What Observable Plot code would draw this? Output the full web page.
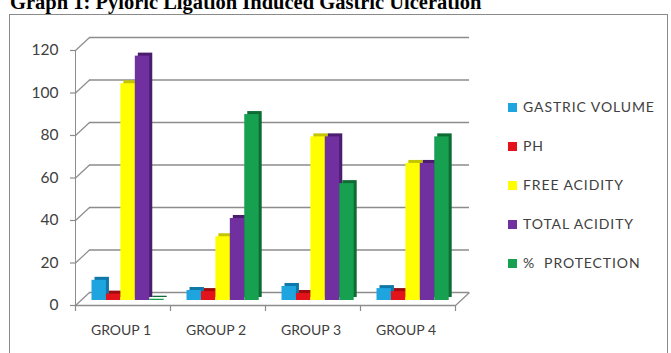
<!DOCTYPE html>
<html><head><meta charset="utf-8">
<script src="https://cdn.jsdelivr.net/npm/d3@7"></script>
<script src="https://cdn.jsdelivr.net/npm/@observablehq/plot@0.6"></script>
<style>
body{margin:0;width:671px;height:353px;overflow:hidden;background:#fff;position:relative;font-family:Lato,sans-serif}
#title{position:absolute;left:10px;top:-8px;font:bold 20.5px "Liberation Serif";line-height:20px;white-space:nowrap;color:#000}
#box{position:absolute;left:9px;top:14px;width:659px;height:400px;border:1px solid #8a8a8a;box-sizing:border-box}
#chart{position:absolute;left:0;top:0}
#legend{position:absolute;left:0;top:0}
.item{position:absolute;left:508px;white-space:pre;font:14px Lato,sans-serif;letter-spacing:0.9px;color:#404040;line-height:16px}
.sw{display:inline-block;width:9px;height:9px;margin-right:6px;vertical-align:0px}
</style></head><body>
<div id="title">Graph 1: Pyloric Ligation Induced Gastric Ulceration</div>
<div id="box"></div>
<div id="chart"></div>
<div id="legend"></div>
<script>
const groups = ["GROUP 1", "GROUP 2", "GROUP 3", "GROUP 4"];
const seriesNames = ["GASTRIC VOLUME", "PH", "FREE ACIDITY", "TOTAL ACIDITY", "%  PROTECTION"];
const gastricVolume = [9.5, 4.7, 6.6, 5.6];
const ph = [3, 4.2, 3.3, 4.2];
const freeAcidity = [102, 30, 77, 64.5];
const totalAcidity = [115, 38.6, 77, 64.5];
const protection = [0.6, 87.5, 55, 77];
const yTicks = [0, 20, 40, 60, 80, 100, 120];
const colors = ["#1ea5e0", "#e3131b", "#ffff00", "#7030a0", "#17a050"];
const sideColors = ["#0f78a8", "#9e0c10", "#c4c400", "#4a1d6e", "#0d6b33"];

const seriesValues = [gastricVolume, ph, freeAcidity, totalAcidity, protection];
const rows = [];
groups.forEach((g, gi) => seriesValues.forEach((vals, si) => {
  const x1 = gi + 0.1 + si * 0.152;
  rows.push({group: g, series: seriesNames[si], si, value: vals[gi], x1, x2: x1 + 0.152});
}));

// 3D depth offsets (pixels) and their equivalents in data units
const pxPerX = 95, pxPerY = 2.125;
const DX = 7, DYB = 8, DYF = 5;
const dxu = DX / pxPerX, dybu = DYB / pxPerY, dyfu = DYF / pxPerY;
const grid = "#8c8c8c";

const chart = Plot.plot({
  width: 671, height: 353,
  marginLeft: 82, marginRight: 209, marginTop: 45, marginBottom: 53,
  x: {domain: [0, 4], axis: null},
  y: {domain: [0, 120], axis: null},
  style: {background: "transparent", overflow: "visible"},
  marks: [
    Plot.ruleY(yTicks, {x1: 0, x2: 4, dx: DX, dy: -DYB, stroke: grid, strokeWidth: 1.5}),
    Plot.link(yTicks, {x1: -dxu, y1: d => d - dyfu, x2: dxu, y2: d => d + dybu, stroke: grid, strokeWidth: 1.2}),
    Plot.link([0], {x1: 4 - dxu, y1: -dyfu, x2: 4 + dxu, y2: dybu, stroke: grid, strokeWidth: 1.2}),
    Plot.ruleY([0], {x1: 0, x2: 4, dx: -DX, dy: DYF, stroke: grid, strokeWidth: 1.5}),
    Plot.ruleX([0], {y1: 0, y2: 120, dx: -DX, dy: DYF, stroke: grid, strokeWidth: 1}),
    Plot.ruleY(yTicks, {x1: -dxu - 5 / pxPerX, x2: -dxu, dy: DYF, stroke: grid, strokeWidth: 1.2}),
    Plot.ruleX([0, 1, 2, 3, 4], {y1: 0, y2: -6 / pxPerY, dx: -DX, dy: DYF, stroke: grid, strokeWidth: 1.2}),
    Plot.text(yTicks, {x: 0, y: d => d, dx: -DX - 17, dy: DYF, textAnchor: "end", fontSize: 15.5, fill: "#404040", fontFamily: "Lato"}),
    Plot.text(groups, {x: (d, i) => i + 0.5, y: 0, dx: -9, dy: 30, text: d => d, fontSize: 14, fill: "#404040", fontFamily: "Lato"}),
    Plot.rectY(rows, {x1: "x1", x2: "x2", y1: 0, y2: "value", fill: d => sideColors[d.si], dx: 3, dy: -3}),
    Plot.rectY(rows, {x1: "x1", x2: "x2", y1: 0, y2: "value", fill: d => colors[d.si]})
  ]
});
document.getElementById("chart").appendChild(chart);

const legend = document.getElementById("legend");
seriesNames.forEach((name, i) => {
  const div = document.createElement("div");
  div.className = "item";
  div.style.top = (107 + 39 * i - 8) + "px";
  div.innerHTML = `<span class="sw" style="background:${colors[i]}"></span>${name}`;
  legend.appendChild(div);
});
</script>
</body></html>
